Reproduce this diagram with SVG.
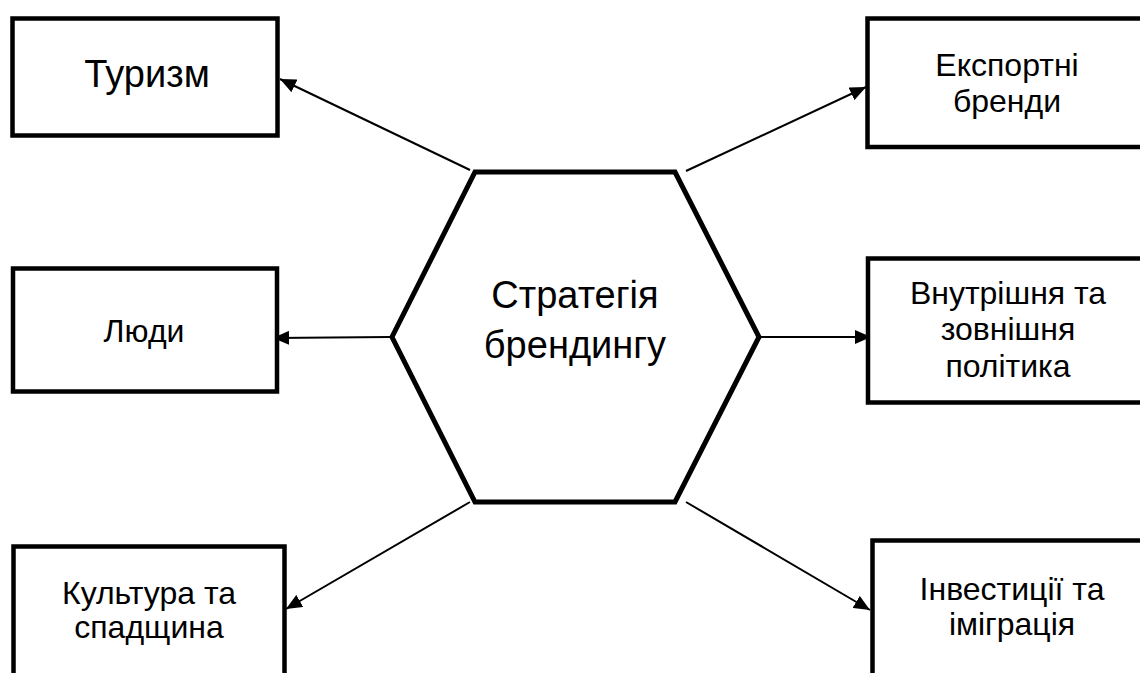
<svg xmlns="http://www.w3.org/2000/svg" width="1140" height="673" viewBox="0 0 1140 673">
<style>
.box{fill:#fff;stroke:#000;stroke-width:4.5}
.hex{fill:#fff;stroke:#000;stroke-width:5}
.t{font-family:"Liberation Sans",Arial,sans-serif;font-size:32px;fill:#000;text-anchor:middle}
.big{font-size:38px}
.c{stroke:#000;stroke-width:2;fill:none;marker-end:url(#ah)}
</style>
<defs>
<marker id="ah" markerUnits="userSpaceOnUse" markerWidth="17" markerHeight="14" refX="16" refY="7" orient="auto">
<path d="M0,0 L16,7 L0,14 z" fill="#000"/>
</marker>
</defs>
<rect width="1140" height="673" fill="#fff"/>
<g id="connectors">
<line class="c" x1="470" y1="170" x2="280" y2="79"/>
<line class="c" x1="686" y1="171" x2="866" y2="87"/>
<line class="c" x1="390" y1="337" x2="273" y2="338"/>
<line class="c" x1="760" y1="337" x2="871" y2="337"/>
<line class="c" x1="470" y1="502" x2="286" y2="609"/>
<line class="c" x1="686" y1="502" x2="870" y2="610"/>
</g>
<g id="center">
<polygon class="hex" points="475,172 675,172 759,337 675,502 475,502 392,337"/>
<text class="t big" x="575" y="308">Стратегія</text>
<text class="t big" x="575" y="358">брендингу</text>
</g>
<g id="tourism">
<rect class="box" x="12.5" y="18.5" width="265" height="117"/>
<text class="t big" x="147" y="87">Туризм</text>
</g>
<g id="export">
<rect class="box" x="867.5" y="18.5" width="290" height="128.5"/>
<text class="t" x="1007" y="76">Експортні</text>
<text class="t" x="1007" y="112">бренди</text>
</g>
<g id="people">
<rect class="box" x="13" y="268.5" width="264" height="123"/>
<text class="t" x="144" y="342">Люди</text>
</g>
<g id="policy">
<rect class="box" x="868" y="258.5" width="290" height="144"/>
<text class="t" x="1008" y="304">Внутрішня та</text>
<text class="t" x="1008" y="340">зовнішня</text>
<text class="t" x="1008" y="377">політика</text>
</g>
<g id="culture">
<rect class="box" x="13.5" y="546.5" width="271" height="140"/>
<text class="t" x="149" y="604">Культура та</text>
<text class="t" x="149" y="638">спадщина</text>
</g>
<g id="investment">
<rect class="box" x="872.5" y="540.5" width="290" height="150"/>
<text class="t" x="1012" y="600">Інвестиції та</text>
<text class="t" x="1012" y="635">іміграція</text>
</g>
</svg>
